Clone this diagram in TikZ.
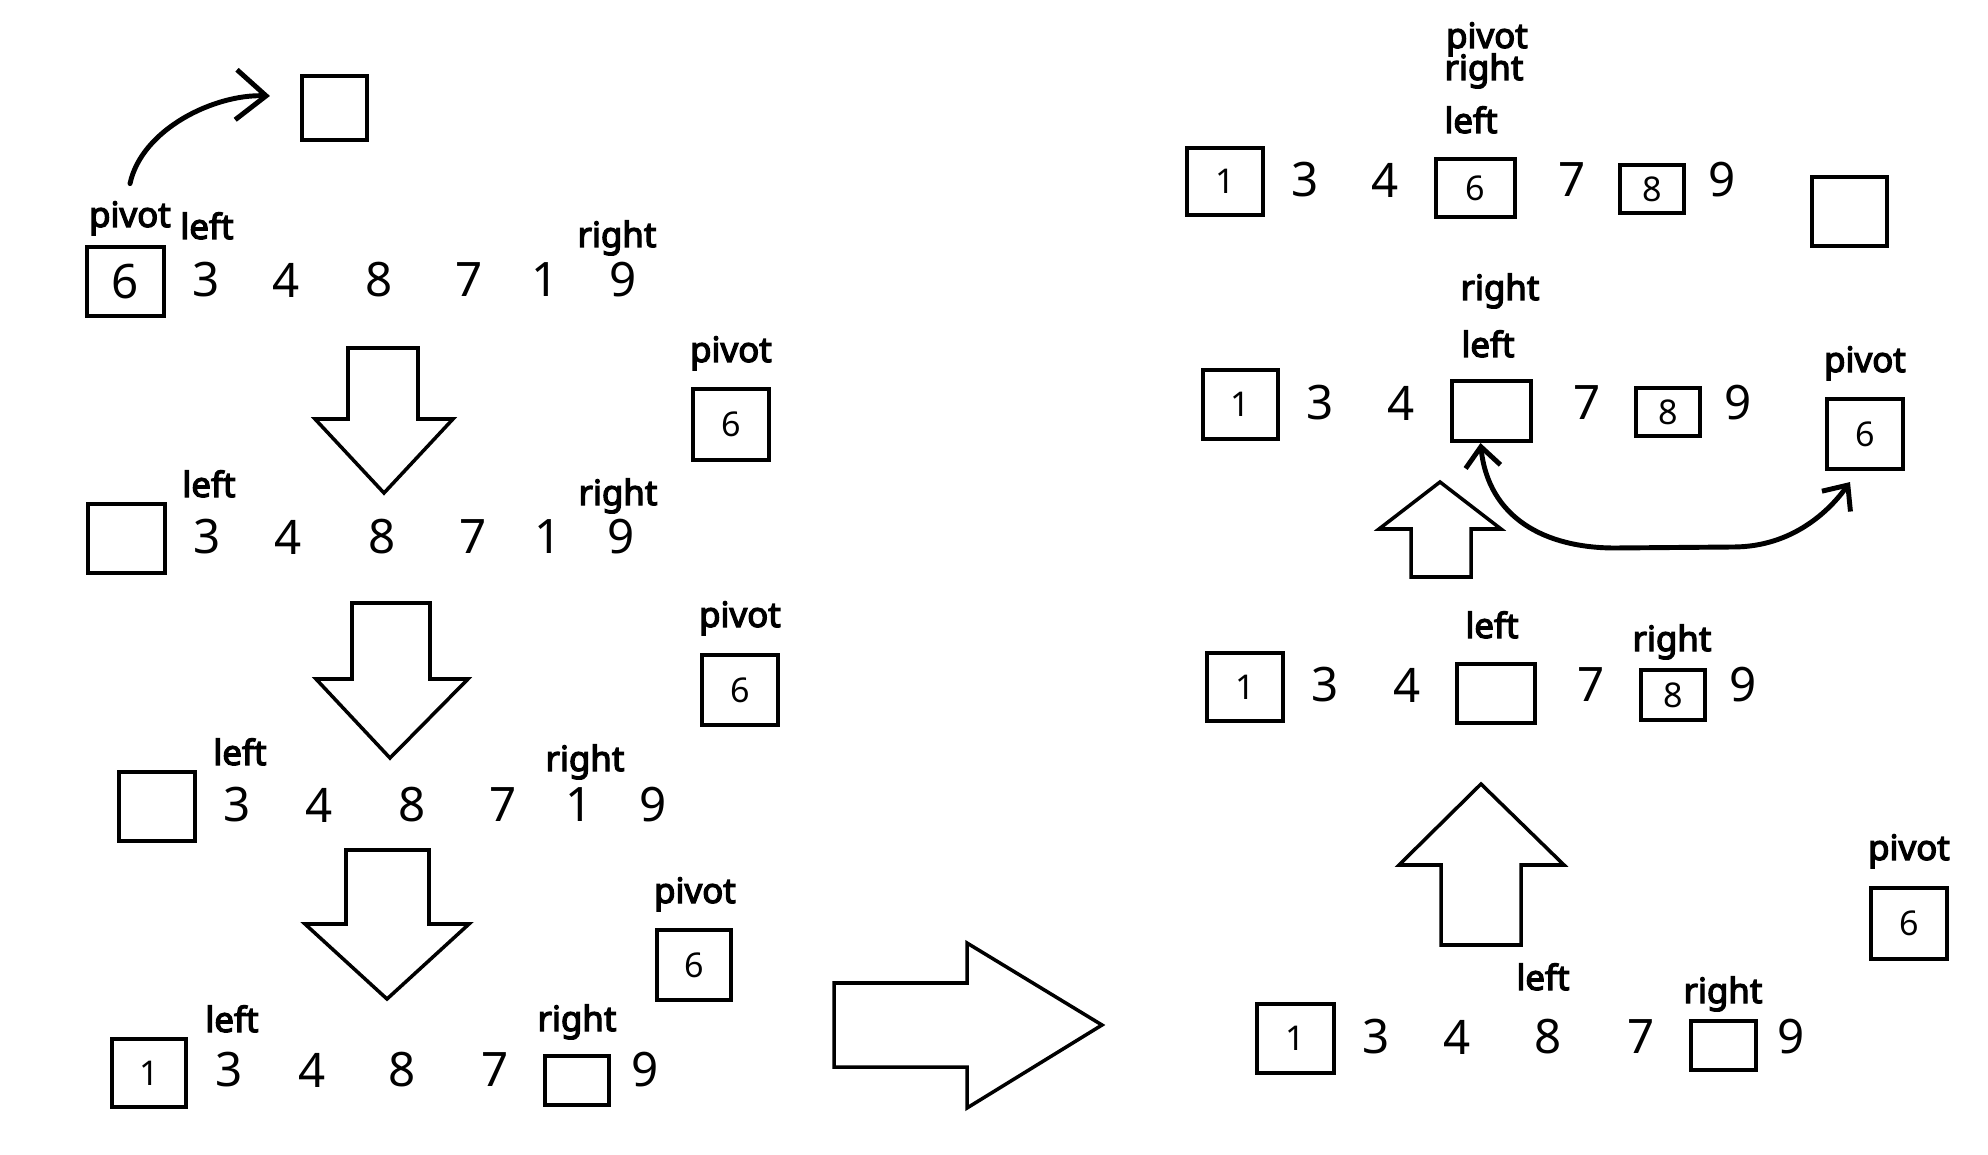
\documentclass[tikz,border=0pt]{standalone}
\usepackage{fontspec}
\setmainfont{Noto Sans}
\newfontfamily\tagfont{Noto Sans}[AutoFakeBold=3.6]
\usetikzlibrary{arrows.meta}

\tikzset{
  num/.style={font=\fontsize{13.5}{14}\selectfont, inner sep=0pt},
  tag/.style={font=\tagfont\fontsize{9.9}{10}\selectfont\bfseries, inner sep=0pt, anchor=base},
  cell/.style={draw, line width=1.15pt, inner sep=0pt, font=\fontsize{9.7}{10}\selectfont},
  blockarrow/.style={draw, line width=1pt, line join=miter},
  hand/.style={line width=1.4pt, line cap=round, line join=round},
}

\begin{document}
\begin{tikzpicture}[x=0.01cm, y=-0.01cm, >=Stealth]
  \useasboundingbox (0,0) rectangle (1988,1155);

  % 第一行：取出 pivot
  \node[cell, minimum width=0.65cm, minimum height=0.64cm] (tmpA) at (334.5,108) {};
  \node[cell, num, minimum width=0.77cm, minimum height=0.69cm] (a6) at (125.5,281.5) {6};
  \foreach \x/\n in {206/3,286/4,379/8,469/7,545/1,623/9}
    \node[num] (a\n) at (\x,280) {\n};
  \node[tag] (pivA) at (130,227) {pivot};
  \node[tag] (leftA) at (207,239) {left};
  \node[tag] (rightA) at (617,247) {right};
  \draw[hand, -{Straight Barb[length=3mm,width=5mm]}] ([yshift=0.17cm]pivA.north)
    .. controls +(12,-55) and +(-55,-2) .. ([xshift=-0.3cm,yshift=0.12cm]tmpA.west);

  % 下箭头 1
  \draw[blockarrow] (348,348) -- (418,348) -- (418,419) -- (453,419) -- (384,493)
    -- (315,419) -- (348,419) -- cycle;

  % 第二行
  \node[tag] (pivB) at (731,362) {pivot};
  \node[cell, minimum width=0.76cm, minimum height=0.71cm] (b6) at (731,424.5) {6};
  \node[cell, minimum width=0.77cm, minimum height=0.69cm] (bgap) at (126.5,538.5) {};
  \foreach \x/\n in {207/3,288/4,382/8,473/7,548/1,621/9}
    \node[num] (b\n) at (\x,537) {\n};
  \node[tag] (leftB) at (209,497) {left};
  \node[tag] (rightB) at (618,505) {right};

  % 下箭头 2
  \draw[blockarrow] (352,603) -- (430,603) -- (430,679) -- (468,679) -- (390,758)
    -- (316,679) -- (352,679) -- cycle;

  % 第三行
  \node[tag] (pivC) at (740,627) {pivot};
  \node[cell, minimum width=0.76cm, minimum height=0.70cm] (c6) at (740,690) {6};
  \node[cell, minimum width=0.76cm, minimum height=0.69cm] (cgap) at (157,806.5) {};
  \foreach \x/\n in {237/3,319/4,412/8,503/7,579/1,653/9}
    \node[num] (c\n) at (\x,805) {\n};
  \node[tag] (leftC) at (240,765) {left};
  \node[tag] (rightC) at (585,771) {right};

  % 下箭头 3
  \draw[blockarrow] (346,850) -- (429,850) -- (429,924) -- (469,924) -- (387,999)
    -- (305,924) -- (346,924) -- cycle;

  % 第四行
  \node[tag] (pivD) at (695,903) {pivot};
  \node[cell, minimum width=0.74cm, minimum height=0.70cm] (d6) at (694,965) {6};
  \node[cell, minimum width=0.74cm, minimum height=0.68cm] (d1) at (149,1073) {1};
  \foreach \x/\n in {229/3,312/4,402/8,495/7,645/9}
    \node[num] (d\n) at (\x,1070) {\n};
  \node[cell, minimum width=0.64cm, minimum height=0.49cm] (dgap) at (577,1080.5) {};
  \node[tag] (leftD) at (232,1032) {left};
  \node[tag] (rightD) at (577,1031) {right};

  % 右箭头
  \draw[blockarrow] (834,983) -- (967,983) -- (967,943) -- (1102,1025) -- (967,1108)
    -- (967,1067) -- (834,1067) -- cycle;

  % 右边：最后一行
  \node[tag] (pivH) at (1909,860) {pivot};
  \node[cell, minimum width=0.76cm, minimum height=0.71cm] (h6) at (1909,923.5) {6};
  \node[cell, minimum width=0.77cm, minimum height=0.69cm] (h1) at (1295.5,1038.5) {1};
  \foreach \x/\n in {1376/3,1457/4,1548/8,1641/7,1791/9}
    \node[num] (h\n) at (\x,1037) {\n};
  \node[cell, minimum width=0.65cm, minimum height=0.49cm] (hgap) at (1723.5,1045.5) {};
  \node[tag] (leftH) at (1543,990) {left};
  \node[tag] (rightH) at (1723,1003) {right};

  % 上箭头 (大)
  \draw[blockarrow] (1481,784) -- (1564,865) -- (1521,865) -- (1521,945) -- (1441,945)
    -- (1441,865) -- (1399,865) -- cycle;

  % 右边：倒数第二行
  \node[cell, minimum width=0.76cm, minimum height=0.68cm] (g1) at (1245,687) {1};
  \foreach \x/\n in {1325/3,1407/4,1591/7,1743/9}
    \node[num] (g\n) at (\x,685) {\n};
  \node[cell, minimum width=0.78cm, minimum height=0.59cm] (ggap) at (1496,693.5) {};
  \node[cell, minimum width=0.64cm, minimum height=0.50cm] (g8) at (1673,695) {8};
  \node[tag] (leftG) at (1492,638) {left};
  \node[tag] (rightG) at (1672,651) {right};

  % 上箭头 (小)
  \draw[blockarrow] (1440,482) -- (1501,529) -- (1471,529) -- (1471,577) -- (1411,577)
    -- (1411,529) -- (1379,529) -- cycle;

  % 右边：第二行，pivot 放回
  \node[cell, minimum width=0.75cm, minimum height=0.69cm] (f1) at (1240.5,404.5) {1};
  \foreach \x/\n in {1320/3,1401/4,1587/7,1738/9}
    \node[num] (f\n) at (\x,403) {\n};
  \node[cell, minimum width=0.79cm, minimum height=0.60cm] (fgap) at (1491.5,411) {};
  \node[cell, minimum width=0.64cm, minimum height=0.48cm] (f8) at (1668,412) {8};
  \node[tag] (rightF) at (1500,300) {right};
  \node[tag] (leftF) at (1488,357) {left};
  \node[tag] (pivF) at (1865,372) {pivot};
  \node[cell, minimum width=0.76cm, minimum height=0.70cm] (f6) at (1865,434) {6};
  \coordinate (swapL) at (1615,548);
  \coordinate (swapR) at (1733,547);
  \draw[hand, {Straight Barb[length=2mm,width=3.5mm]}-{Straight Barb[length=2mm,width=3.5mm]}]
    ([xshift=-0.11cm]fgap.south) .. controls +(8,75) and +(-70,0) .. (swapL) -- (swapR)
    .. controls +(60,0) and +(-20,28) .. ([xshift=-0.15cm,yshift=-0.11cm]f6.south);

  % 右边：第一行
  \node[tag] (pivE) at (1487,48) {pivot};
  \node[tag] (rightE) at (1484,80) {right};
  \node[tag] (leftE) at (1471,133) {left};
  \node[cell, minimum width=0.76cm, minimum height=0.67cm] (e1) at (1225,181.5) {1};
  \foreach \x/\n in {1305/3,1385/4,1572/7,1722/9}
    \node[num] (e\n) at (\x,180) {\n};
  \node[cell, minimum width=0.79cm, minimum height=0.58cm] (e6) at (1475.5,188) {6};
  \node[cell, minimum width=0.64cm, minimum height=0.48cm] (e8) at (1652,189) {8};
  \node[cell, minimum width=0.75cm, minimum height=0.69cm] (egap) at (1849.5,211.5) {};
\end{tikzpicture}
\end{document}
